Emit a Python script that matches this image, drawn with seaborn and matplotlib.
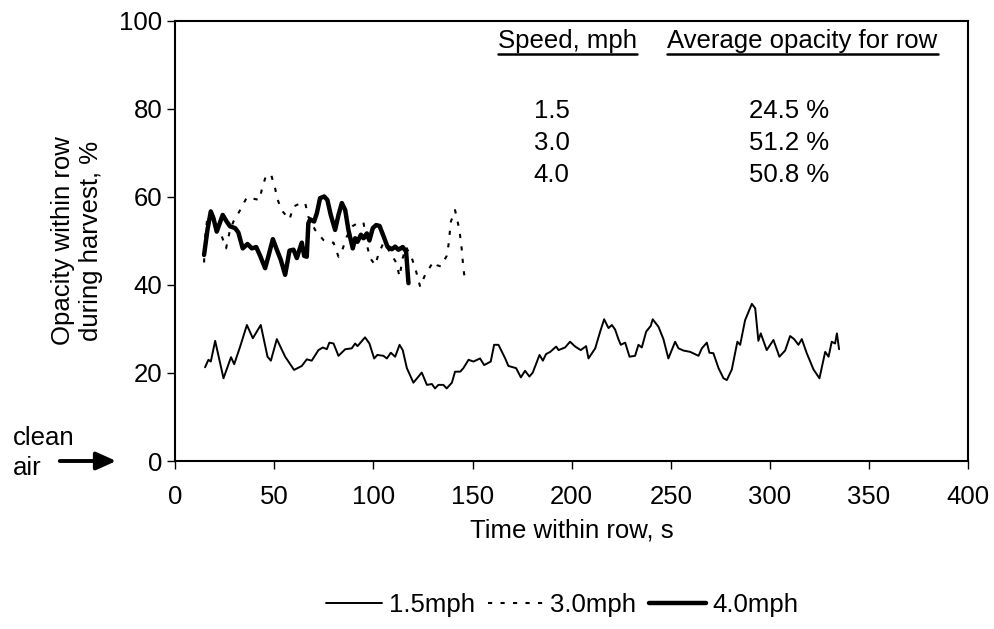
import numpy as np
import pandas as pd
import seaborn as sns
import matplotlib
matplotlib.use("Agg")
import matplotlib.pyplot as plt

# 1.5 mph run
t_15 = [15.1, 16.8, 18, 20.2, 24.4, 28.2, 29.8, 32.8, 36.2, 39.2, 43.2, 46.6, 48.3, 51.3,
        55.5, 60, 63.9, 66.4, 68.9, 72.3, 74.5, 76.5, 77.8, 79.9, 82.4, 85.8, 89.1, 90.8,
        92, 95.8, 98, 100.4, 102, 105.1, 106.8, 108.8, 111, 113.2, 114.8, 116.9, 120.2,
        124.4, 127, 129.5, 131.1, 132.8, 135.3, 137, 139.6, 141.2, 143.8, 145.4, 148,
        150.5, 153.8, 155.9, 159.2, 160.9, 163.1, 166.5, 168.1, 172, 174.4, 176.5, 178.7,
        180.4, 183.8, 185.5, 187.1, 189.2, 192.2, 193.4, 196.7, 199.2, 201.8, 204.6, 207.3,
        208.5, 211.9, 214.4, 216.4, 218.6, 220.3, 221.9, 223.6, 224.8, 227, 229.2, 232,
        233.7, 235.4, 237.6, 239.9, 240.9, 243.8, 246.3, 248.8, 252.2, 253.9, 256.4, 259.8,
        264, 265.7, 268.2, 269.5, 271.5, 274.1, 276.6, 278.3, 280.8, 283.6, 285, 287.5,
        290.9, 292.6, 294.2, 295.4, 298.4, 301.8, 304.8, 307.7, 310.2, 312.2, 314.4, 316.1,
        318.6, 322, 325, 327.9, 329.6, 331.2, 332.9, 333.8, 334.9]
v_15 = [21.3, 23, 22.6, 27.3, 18.8, 23.6, 22, 26, 30.9, 27.9, 30.9, 23.7, 22.8, 27.7,
        23.7, 20.7, 21.6, 23.1, 22.8, 25.2, 25.8, 25.4, 26.9, 26.7, 23.9, 25.4, 25.6, 26.7,
        26.1, 28.1, 26.7, 23.3, 24.1, 23.9, 23.3, 24.6, 23.7, 26.4, 25.2, 21.1, 17.8,
        20.1, 17.3, 17.5, 16.5, 17.3, 17.3, 16.5, 17.8, 20.3, 20.3, 21.1, 23,
        22.6, 23.3, 21.8, 22.6, 26.4, 26.4, 23.3, 21.6, 21.1, 19, 20.5, 19.2,
        20.1, 24.1, 22.8, 24.3, 24.8, 26, 25.2, 25.8, 27.1, 26, 25.2, 26.1,
        23.3, 25.6, 29.4, 32.2, 30.2, 30.9, 29.9, 27.7, 26.4, 26.9, 23.7, 23.9,
        26.4, 25.8, 29.4, 30.7, 32.2, 30.5, 27.7, 23.3, 27.1, 25.6, 25.1, 24.8,
        23.9, 25.6, 26.9, 24.6, 24.5, 21.1, 18.8, 18.4, 20.8, 27.1, 26.4, 32,
        35.7, 34.7, 27.3, 29, 25.2, 27.5, 23.7, 25.1, 28.4, 27.7, 26.4, 27.7,
        24.5, 20.8, 18.8, 24.8, 23.7, 27.1, 26.7, 29, 25.4]

# 3.0 mph run
t_30 = [14.6, 15.1, 16.3, 19, 23.5, 25.7, 27.4, 29.4, 32.8, 36.2, 42.5, 43.7, 45.4, 48.3,
        50.4, 51.6, 53.8, 57.7, 59.7, 63.9, 65.6, 67.2, 70.6, 74.8, 77.8, 79.9, 82.4, 84.6,
        86.6, 89.6, 92.9, 95, 97, 98.4, 100.9, 102.6, 105.1, 107.6, 111.5, 113.2, 114.8,
        116.5, 119.4, 121.6, 123.6, 126.1, 130.3, 132, 134, 137, 137.9, 139.1, 141.2,
        143.4, 144.6, 145.4, 146.3]
v_30 = [45.1, 50.6, 55.5, 55.9, 51.1, 48.3, 51.9, 54.4, 57, 59.9, 59.3, 61.6, 64.2, 65.2,
        62, 59.5, 56.9, 54.9, 57.8, 58.7, 58.6, 55.5, 52.5, 50.2, 49.6, 49.6, 46.4, 48.3,
        51, 53.4, 54.2, 54.2, 48.6, 46.1, 44.5, 47, 49.6, 48, 45.1, 41.9, 46.1,
        48.6, 46.1, 43, 39.6, 42.3, 45.3, 44.5, 44.2, 46.6, 49.1, 54.4, 57,
        52.5, 48, 43.8, 40.8]

# 4.0 mph run
t_40 = [14.6, 16.3, 18, 19.3, 21, 24, 26, 27.7, 30.3, 31.9, 34.1, 36.5, 38.7, 40.9, 42.9,
        45.4, 47.1, 49.3, 51.3, 53.3, 55.5, 57.7, 59.7, 61.4, 62.7, 63.9, 65.1, 66.4, 67.2,
        68.1, 70.1, 71.5, 73.1, 75.2, 76.8, 78.5, 80.7, 82.4, 84.1, 85.8, 87.4, 89.6, 90.8,
        92, 93.7, 95, 96.7, 98, 99.7, 101.4, 103.1, 105.1, 107.1, 109.3, 111, 112.6, 114.8,
        116.5, 117.7]
v_40 = [46.8, 52.5, 56.7, 55.2, 52.1, 55.9, 54.4, 53.3, 52.9, 51.9, 48.3, 49.3, 48.3, 48.6,
        46.6, 43.8, 46.6, 50.4, 48, 45.7, 42.3, 47.8, 48, 46.1, 48, 49.6, 46.6, 46.4, 54,
        54.9, 54.4, 56.3, 59.7, 60.1, 59.3, 55.9, 52.5, 55.9, 58.6, 57, 52.5, 48.3, 50.6,
        49.8, 51.4, 50.6, 51.7, 50.1, 52.9, 53.6, 53.4, 51.1, 48.7, 48.1, 48.7, 48, 48.6,
        47.6, 40.4]

speeds = ["1.5", "3.0", "4.0"]
avg_opacity = ["24.5 %", "51.2 %", "50.8 %"]
legend_labels = ["1.5mph", "3.0mph", "4.0mph"]

sns.set_theme(style="white")
plt.rcParams["font.family"] = ["Liberation Sans", "DejaVu Sans"]
plt.rcParams["text.color"] = "black"
plt.rcParams["axes.labelcolor"] = "black"
fs = 18.5

fig = plt.figure(figsize=(9.95, 6.29), dpi=100)
ax = fig.add_axes([0.176, 0.267, 0.797, 0.700])

sns.lineplot(x=t_15, y=v_15, ax=ax, color="black", linewidth=1.4,
             sort=False, estimator=None, label=legend_labels[0])
sns.lineplot(x=t_30, y=v_30, ax=ax, color="black", linewidth=1.5,
             linestyle=(0, (2, 4)), sort=False, estimator=None, label=legend_labels[1])
sns.lineplot(x=t_40, y=v_40, ax=ax, color="black", linewidth=3.2,
             sort=False, estimator=None, label=legend_labels[2])

ax.set_xlim(0, 400)
ax.set_ylim(0, 100)
ax.set_xticks(range(0, 401, 50))
ax.set_yticks(range(0, 101, 20))
ax.tick_params(direction="out", length=6, width=1, colors="black", labelsize=fs,
               left=True, bottom=True)
ax.tick_params(axis="y", pad=3)
ax.tick_params(axis="x", pad=11)
for s in ax.spines.values():
    s.set_color("black")
    s.set_linewidth(1.5)

ax.set_xlabel("Time within row, s", fontsize=fs, labelpad=7, color="black")
ax.set_ylabel("Opacity within row\nduring harvest, %", fontsize=fs, labelpad=12, color="black")

# table of averages
h1 = ax.text(197.7, 95.5, "Speed, mph", fontsize=fs, ha="center", va="center")
h2 = ax.text(316.5, 95.5, "Average opacity for row", fontsize=fs, ha="center", va="center")
row_y = [79.6, 72.3, 65.0]
for sp, av, yy in zip(speeds, avg_opacity, row_y):
    ax.text(190, yy, sp, fontsize=fs, ha="center", va="center")
    ax.text(309.5, yy, av, fontsize=fs, ha="center", va="center")

# clean air marker
fig.text(13 / 995, 1 - 453 / 629, "clean\nair", fontsize=fs, ha="left", va="center",
         linespacing=1.3)
ax.annotate("", xy=(119 / 995, 1 - 461 / 629), xytext=(57 / 995, 1 - 461 / 629),
            xycoords="figure fraction", textcoords="figure fraction",
            arrowprops=dict(arrowstyle="-|>,head_length=1.0,head_width=0.45",
                            color="black", lw=2.8))

leg = ax.legend(loc="center", bbox_to_anchor=(562 / 995, 1 - 605 / 629),
                bbox_transform=fig.transFigure, ncol=3, frameon=False, fontsize=fs,
                handlelength=2.2, handletextpad=0.25, columnspacing=0.5)
for txt in leg.get_texts():
    txt.set_color("black")

# underline headers
fig.canvas.draw()
inv = fig.transFigure.inverted()
for h in (h1, h2):
    bb = h.get_window_extent()
    (x0, y0), (x1, y1) = inv.transform([(bb.x0, bb.y0), (bb.x1, bb.y1)])
    fig.add_artist(plt.Line2D([x0, x1], [y0 - 0.002, y0 - 0.002], color="black",
                              lw=1.8, transform=fig.transFigure))

fig.savefig("out.png", dpi=100)
